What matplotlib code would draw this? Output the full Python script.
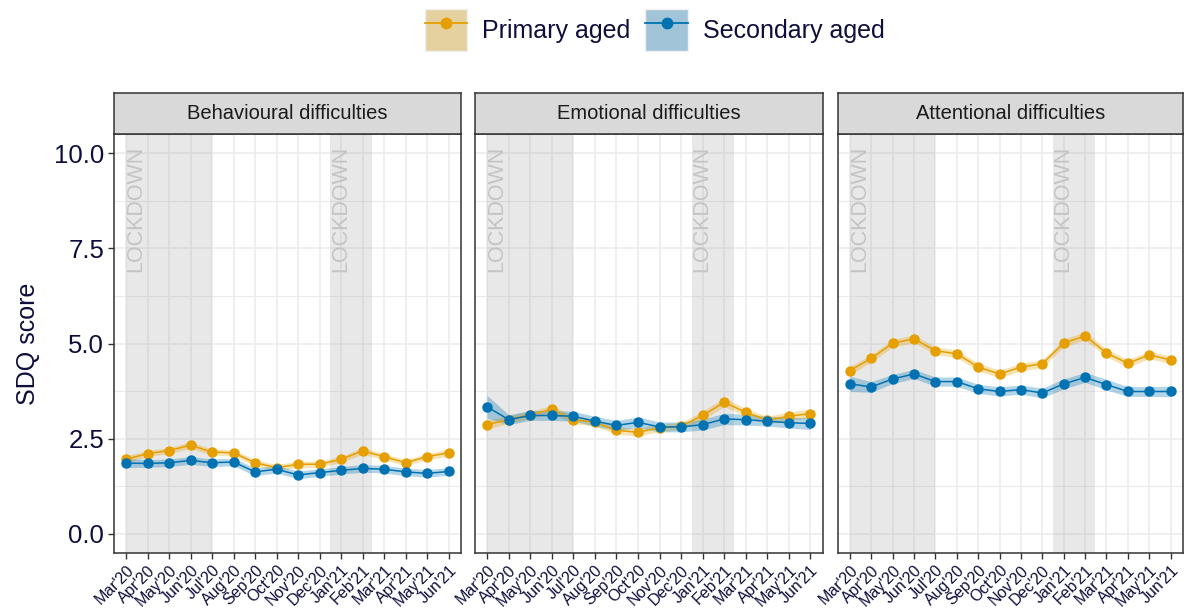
import numpy as np
import matplotlib.pyplot as plt
from matplotlib.patches import Patch
from matplotlib.lines import Line2D

plt.rcParams['font.family'] = ['Liberation Sans', 'DejaVu Sans']

months = ["Mar'20", "Apr'20", "May'20", "Jun'20", "Jul'20", "Aug'20", "Sep'20", "Oct'20",
          "Nov'20", "Dec'20", "Jan'21", "Feb'21", "Mar'21", "Apr'21", "May'21", "Jun'21"]
panels = ["Behavioural difficulties", "Emotional difficulties", "Attentional difficulties"]
groups = ["Primary aged", "Secondary aged"]

beh_primary = [1.96, 2.11, 2.19, 2.33, 2.15, 2.13, 1.87, 1.74, 1.83, 1.83, 1.96, 2.18, 2.03, 1.87, 2.03, 2.13]
beh_secondary = [1.86, 1.85, 1.87, 1.93, 1.87, 1.89, 1.63, 1.70, 1.55, 1.61, 1.67, 1.72, 1.70, 1.63, 1.59, 1.64]
emo_primary = [2.87, 3.00, 3.13, 3.27, 3.00, 2.93, 2.72, 2.67, 2.79, 2.83, 3.11, 3.46, 3.19, 2.99, 3.09, 3.16]
emo_secondary = [3.34, 3.00, 3.11, 3.11, 3.09, 2.96, 2.85, 2.93, 2.81, 2.81, 2.87, 3.02, 3.00, 2.96, 2.92, 2.90]
att_primary = [4.29, 4.61, 5.01, 5.12, 4.81, 4.73, 4.38, 4.20, 4.38, 4.47, 5.01, 5.20, 4.75, 4.48, 4.70, 4.57]
att_secondary = [3.94, 3.86, 4.07, 4.20, 4.00, 4.00, 3.81, 3.74, 3.79, 3.70, 3.94, 4.11, 3.92, 3.74, 3.74, 3.74]

# half widths of the confidence bands
beh_primary_ci = [0.09, 0.08, 0.08, 0.09, 0.08, 0.08, 0.08, 0.08, 0.08, 0.08, 0.08, 0.09, 0.08, 0.08, 0.08, 0.09]
beh_secondary_ci = [0.12, 0.10, 0.10, 0.10, 0.10, 0.10, 0.10, 0.10, 0.10, 0.10, 0.10, 0.10, 0.10, 0.10, 0.10, 0.10]
emo_primary_ci = [0.12, 0.10, 0.10, 0.10, 0.10, 0.10, 0.10, 0.10, 0.10, 0.10, 0.11, 0.12, 0.10, 0.10, 0.11, 0.12]
emo_secondary_ci = [0.30, 0.13, 0.13, 0.13, 0.13, 0.13, 0.13, 0.14, 0.13, 0.13, 0.14, 0.15, 0.14, 0.13, 0.14, 0.16]
att_primary_ci = [0.11, 0.10, 0.10, 0.10, 0.10, 0.10, 0.10, 0.10, 0.10, 0.10, 0.10, 0.11, 0.10, 0.10, 0.10, 0.10]
att_secondary_ci = [0.20, 0.14, 0.12, 0.12, 0.12, 0.12, 0.12, 0.12, 0.12, 0.13, 0.13, 0.13, 0.14, 0.13, 0.13, 0.14]

# lockdown periods, in month index units
lockdowns = [(0, 4), (9.5, 11.45)]

data = [
    (beh_primary, beh_primary_ci, beh_secondary, beh_secondary_ci),
    (emo_primary, emo_primary_ci, emo_secondary, emo_secondary_ci),
    (att_primary, att_primary_ci, att_secondary, att_secondary_ci),
]

colors = ['#E69F00', '#0072B2']
key_fill = ['#e5d0a0', '#a2c4d9']
navy = '#0e0e3c'
frame = '#333333'

W, H = 1186, 609
fig = plt.figure(figsize=(W / 100, H / 100), dpi=100)

lefts = [114, 475, 838]
rights = [461, 823, 1183]
top, bottom, strip_top = 134, 553, 93

x = np.arange(len(months))
for i, (left, right) in enumerate(zip(lefts, rights)):
    ax = fig.add_axes([left / W, 1 - bottom / H, (right - left) / W, (bottom - top) / H])
    ax.set_xlim(-0.56, 15.58)
    ax.set_ylim(-0.5, 10.5)

    # lockdown shading
    for a, b in lockdowns:
        ax.axvspan(a, b, color='#9a9a9a', alpha=0.22, lw=0, zorder=1)
        ax.text(a + 0.47, 10.18, 'LOCKDOWN', rotation=90, ha='center', va='top',
                fontsize=15.5, color='#c4c4c4', zorder=2)

    p, pci, s, sci = data[i]
    for vals, ci, col in [(p, pci, colors[0]), (s, sci, colors[1])]:
        vals = np.array(vals)
        ci = np.array(ci)
        ax.fill_between(x, vals - ci, vals + ci, color=col, alpha=0.3, lw=0, zorder=3)
        ax.plot(x, vals, color=col, lw=1.1, marker='o', markersize=6.5, zorder=4)

    ax.set_xticks(x)
    ax.set_xticklabels(months, rotation=45, ha='right', rotation_mode='anchor',
                       fontsize=11.5, color=navy)
    ax.set_yticks([0, 2.5, 5, 7.5, 10])
    ax.set_yticks([1.25, 3.75, 6.25, 8.75], minor=True)
    ax.tick_params(axis='both', which='major', length=4, width=1, color=frame, pad=3)
    ax.tick_params(axis='y', which='minor', length=0)
    if i == 0:
        ax.set_yticklabels(['0.0', '2.5', '5.0', '7.5', '10.0'], fontsize=18.5, color=navy)
        ax.set_ylabel('SDQ score', fontsize=18, color=navy, labelpad=10)
    else:
        ax.set_yticklabels([])
        ax.tick_params(axis='y', which='major', length=0)
    ax.grid(True, which='major', color='#ebebeb', lw=1.1, zorder=0)
    ax.grid(True, which='minor', axis='y', color='#ebebeb', lw=0.8, zorder=0)
    ax.set_axisbelow(True)
    for sp in ax.spines.values():
        sp.set_color(frame)
        sp.set_linewidth(1.1)

    # facet strip
    sax = fig.add_axes([left / W, 1 - top / H, (right - left) / W, (top - strip_top) / H])
    sax.set_facecolor('#d9d9d9')
    sax.set_xticks([])
    sax.set_yticks([])
    for sp in sax.spines.values():
        sp.set_color(frame)
        sp.set_linewidth(1.1)
    sax.text(0.5, 0.5, panels[i], ha='center', va='center', fontsize=14.5, color='#1a1a1a',
             transform=sax.transAxes)

handles = [(Patch(facecolor=f, edgecolor='#f0f0f0', lw=1),
            Line2D([], [], color=c, lw=1.3, marker='o', markersize=7.5))
           for c, f in zip(colors, key_fill)]
fig.legend(handles, groups, loc='center', bbox_to_anchor=(0.552, 0.951), ncol=2,
           frameon=False, fontsize=18, handlelength=1.7, handleheight=2.2,
           columnspacing=0.6, handletextpad=0.6, labelcolor=navy)

fig.savefig('out.png', dpi=100)
